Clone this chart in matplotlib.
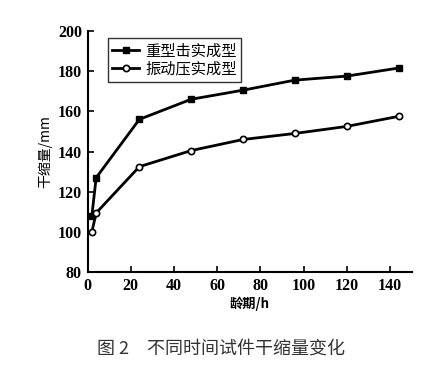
import matplotlib.pyplot as plt

# 龄期 (h)
hours = [2, 4, 24, 48, 72, 96, 120, 144]
# 干缩量 (mm)
heavy = [108, 127, 156, 166, 170.5, 175.5, 177.5, 181.5]
vibro = [100, 109.5, 132.5, 140.5, 146, 149, 152.5, 157.5]
labels = ["重型击实成型", "振动压实成型"]
xticks = [0, 20, 40, 60, 80, 100, 120, 140]
yticks = [80, 100, 120, 140, 160, 180, 200]

cjk = ["Noto Sans CJK SC", "DejaVu Sans"]
num_font = "Liberation Serif"

fig = plt.figure(figsize=(4.42, 3.67), dpi=100)
ax = fig.add_axes([0.198, 0.258, 0.733, 0.658])

ax.plot(hours, heavy, color="black", lw=2, marker="s", ms=4.5,
        mfc="black", mec="black", label=labels[0])
ax.plot(hours, vibro, color="black", lw=2, marker="o", ms=4.5,
        mfc="white", mec="black", mew=1.2, label=labels[1])

ax.set_xlim(0, 150)
ax.set_ylim(80, 200)
ax.set_xticks(xticks)
ax.set_yticks(yticks)
ax.spines["top"].set_visible(False)
ax.spines["right"].set_visible(False)
ax.spines["left"].set_linewidth(1.5)
ax.spines["bottom"].set_linewidth(1.5)
ax.tick_params(direction="in", length=4, width=1.2, pad=4)
for lab in ax.get_xticklabels() + ax.get_yticklabels():
    lab.set_fontfamily(num_font)
    lab.set_fontweight("bold")
    lab.set_fontsize(11.5)

ax.set_ylabel("干缩量/mm", family=cjk, fontsize=10, labelpad=4)
ax.set_xlabel("龄期/h", family=cjk, fontsize=9.5, fontweight="bold", labelpad=2)

leg = ax.legend(loc="upper left", bbox_to_anchor=(0.04, 1.0),
                prop={"family": cjk, "size": 11}, frameon=True,
                fancybox=False, edgecolor="black", handlelength=1.8,
                borderpad=0.25, labelspacing=0.1, handletextpad=0.4)
leg.get_frame().set_linewidth(1.0)

fig.text(0.50, 0.05, "图 2　不同时间试件干缩量变化", family=cjk,
         fontsize=13, color="#333333", ha="center", va="center")

fig.savefig("out.png", dpi=100)
